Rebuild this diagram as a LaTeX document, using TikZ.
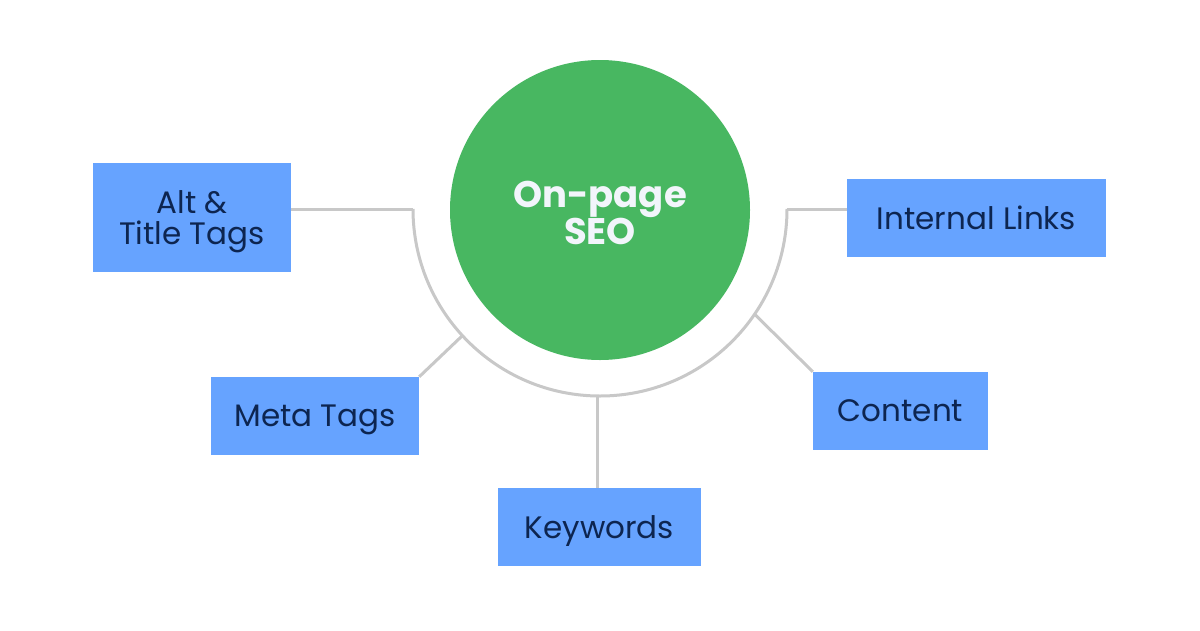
\documentclass[tikz,border=0pt]{standalone}
\usepackage{fontspec}
\setmainfont{Poppins}
\usetikzlibrary{calc}
\definecolor{boxblue}{HTML}{66A3FF}
\definecolor{navy}{HTML}{0D2550}
\definecolor{seogreen}{HTML}{48B761}
\definecolor{linegray}{HTML}{C8C8C8}
\definecolor{softwhite}{HTML}{F2F5FB}
\begin{document}
\begin{tikzpicture}[x=1pt,y=-1pt,
  topic/.style={fill=boxblue,draw=none,inner sep=0pt,align=center,text=navy,
    text depth=0pt,font=\fontsize{31}{31}\selectfont},
  conn/.style={draw=linegray,line width=3pt}]
\useasboundingbox[fill=white] (0,0) rectangle (1200,630);
\node[circle,fill=seogreen,minimum size=300pt,inner sep=0pt] (seo) at (600,210) {};
\node[text=softwhite,align=center,font=\fontsize{37}{37}\selectfont\bfseries] (seolabel) at (600,213) {On-page\\SEO};
\node[topic,minimum width=198pt,minimum height=109pt] (alt) at (192,217.5) {Alt \&\\Title Tags};
\node[topic,minimum width=259pt,minimum height=78pt] (internal) at (976.5,218) {Internal Links};
\node[topic,minimum width=208pt,minimum height=78pt] (meta) at (315,416) {Meta Tags};
\node[topic,minimum width=175pt,minimum height=78pt] (content) at (900.5,411) {Content};
\node[topic,minimum width=203pt,minimum height=78pt] (keywords) at (599.5,527) {Keywords};
\coordinate (c) at (600,210);
\coordinate (arcL) at (413,209);
\coordinate (arcR) at (787,209);
\coordinate (arcB) at (597,397);
\coordinate (arcM) at ($(c)+(137.6:187)$);
\coordinate (arcC) at ($(c)+(34:187)$);
\draw[conn] (arcL) arc[start angle=180,end angle=0,radius=187];
\draw[conn] (alt.east |- arcL) -- (arcL);
\draw[conn] (arcR) -- (internal.west |- arcR);
\draw[conn] (meta.north east) -- (arcM);
\draw[conn] (content.north west) -- (arcC);
\draw[conn] (arcB) -- (keywords.north -| arcB);
\end{tikzpicture}
\end{document}
